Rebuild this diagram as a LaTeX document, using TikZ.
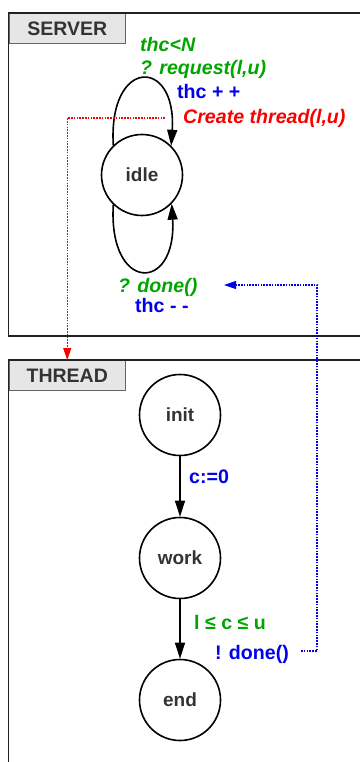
\documentclass[tikz,border=0pt]{standalone}
\usepackage{fontspec}
\setmainfont{Liberation Sans}
\usetikzlibrary{arrows.meta}
\definecolor{stG}{RGB}{0,165,0}
\definecolor{stB}{RGB}{0,0,235}
\definecolor{stR}{RGB}{250,0,0}
\definecolor{tabgray}{RGB}{230,230,230}
\definecolor{ink}{RGB}{51,51,51}

\tikzset{
  state/.style={circle,draw,line width=1.6pt,minimum size=81pt,inner sep=0pt,
    font=\fontsize{19}{21}\selectfont\bfseries,text=ink},
  tab/.style={draw=black!60,line width=1pt,fill=tabgray,anchor=north west,
    minimum width=116.5pt,minimum height=30pt,inner sep=0pt,
    font=\fontsize{19.5}{21}\selectfont\bfseries,text=ink},
  frame/.style={line width=1.8pt,black!87},
  lbl/.style={anchor=base west,inner sep=0pt,font=\fontsize{19.6}{21}\selectfont\bfseries},
  trans/.style={line width=1.6pt,-{Triangle[length=16pt,width=10pt]}},
  msg/.style={line width=1.2pt,dash pattern=on 1.6pt off 1.2pt,-{Triangle[length=12pt,width=8pt]}}
}

\begin{document}
\begin{tikzpicture}[x=1pt,y=-1pt]
\useasboundingbox (0,0) rectangle (359,762);
% ---------- SERVER ----------
\node[tab] (srvtab) at (8.5,13) {SERVER};
\draw[frame] (8.5,13) rectangle (370,336);
\node[state] (idle) at (142,175) {idle};
\draw[trans] (idle.134) .. controls (108,57) and (177,57) .. (idle.45);
\draw[trans] (idle.226) .. controls (108,293) and (177,293) .. (idle.-44);
\node[lbl,stG] (guard) at (140,52) {\itshape thc<N};
\node[lbl,stG] (req) at (140,75) {\itshape ? request(l,u)};
\node[lbl,stB] (inc) at (177,99) {thc + +};
\node[lbl,stR] (spawn) at (183,124) {\itshape Create thread(l,u)};
\node[lbl,stG] (rcv) at (118,292) {\itshape ? done()};
\node[lbl,stB] (dec) at (135,312) {thc - -};
% ---------- THREAD ----------
\node[tab] (thrtab) at (8.5,360) {THREAD};
\draw[frame] (8.5,360) rectangle (370,775);
\node[state] (init) at (180,415) {init};
\node[state] (work) at (180,558) {work};
\node[state] (fin) at (180,700) {end};
\draw[trans] (init) -- (work);
\draw[trans] (work) -- (fin);
\node[lbl,stB] (reset) at (189,483) {c:=0};
\node[lbl,stG] (range) at (194,629) {l ≤ c ≤ u};
\node[lbl,stB] (sig) at (215,659) {! done()};
% ---------- messages ----------
\coordinate (fork) at (165,118);
\coordinate (sigout) at (301,651);
\coordinate (rcvin) at (224,285);
\draw[msg,stR] (fork) -| (thrtab.north);
\draw[msg,stB] (sigout) -- ++(16,0) |- (rcvin);
\end{tikzpicture}
\end{document}
